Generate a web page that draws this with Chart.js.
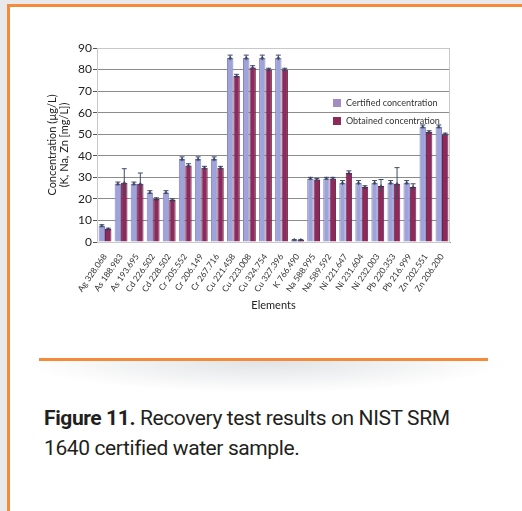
<!DOCTYPE html>
<html>
<head>
<meta charset="utf-8">
<script src="https://cdn.jsdelivr.net/npm/chart.js@4.4.1/dist/chart.umd.min.js"></script>
<style>
  html, body { margin: 0; padding: 0; }
  body { width: 522px; height: 511px; background: #e8e9eb; position: relative; overflow: hidden; }
  #panel { position: absolute; left: 7px; top: 4px; width: 530px; height: 520px; background: #fff;
    border-top: 3px solid #f58a3a; border-left: 3px solid #f58a3a; }
  #wrap { position: absolute; left: 0; top: 0; width: 522px; height: 330px; }
  .leg { position: absolute; font-family: Lato, "Open Sans", sans-serif; font-size: 9px; color: #333; }
  .leg span { position: absolute; left: 0; top: 1px; width: 8px; height: 8px; }
  .leg div { position: absolute; left: 13px; top: -1px; white-space: nowrap; }
  #rule { position: absolute; left: 39px; top: 358px; width: 449px; height: 3px; background: #f58a3a; }
  #shade { position: absolute; left: 20px; top: 361px; width: 490px; height: 32px;
    background: radial-gradient(ellipse at 50% 0%, rgba(200,203,208,0.55), rgba(255,255,255,0) 70%); }
  #caption { position: absolute; left: 44px; top: 403px; width: 470px; font-family: Roboto, sans-serif;
    font-size: 21px; line-height: 30px; color: #231f20; letter-spacing: -0.4px; white-space: nowrap; }
</style>
</head>
<body>
<div id="panel"></div>
<div id="shade"></div>
<div id="rule"></div>
<div id="wrap"><canvas id="chart"></canvas></div>
<div class="leg" style="left:333px; top:98px;"><span style="background:#a48cc2"></span><div>Certified concentration</div></div>
<div class="leg" style="left:333px; top:116px;"><span style="background:#8c2a5b"></span><div>Obtained concentration</div></div>
<div id="caption"><b>Figure 11.</b> Recovery test results on NIST SRM<br>1640 certified water sample.</div>
<script>
const elements = ["Ag 328.068", "As 188.983", "As 193.695", "Cd 226.502", "Cd 228.502",
  "Cr 205.552", "Cr 206.149", "Cr 267.716", "Cu 221.458", "Cu 223.008", "Cu 324.754",
  "Cu 327.396", "K 766.490", "Na 588.995", "Na 589.592", "Ni 221.647", "Ni 231.604",
  "Ni 232.003", "Pb 220.353", "Pb 216.999", "Zn 202.551", "Zn 206.200"];
const certified = [7.5, 27, 27, 23, 23, 38.5, 38.5, 38.5, 85.5, 85.5, 85.5, 85.5, 1,
  29.5, 29.5, 27.5, 27.5, 27.5, 27.5, 27.5, 53.5, 53.5];
const obtained = [6, 27.5, 27, 20, 19.5, 35.5, 34.5, 34.5, 77, 81, 80, 80, 1,
  29, 29.5, 32, 25.5, 26, 27, 25.5, 51, 50];
const certifiedErr = [0.5, 0.8, 0.8, 0.8, 0.8, 1, 1, 1, 1.2, 1.2, 1.2, 1.2, 0.1,
  0.5, 0.5, 1, 1, 1, 1, 1, 0.8, 0.8];
const obtainedErr = [0.4, 6.5, 5, 0.5, 0.5, 0.8, 0.6, 0.6, 0.8, 0.8, 0.6, 0.6, 0.1,
  0.5, 0.5, 1, 0.6, 3, 7.5, 1.5, 0.6, 0.5];
const yTicks = [0, 10, 20, 30, 40, 50, 60, 70, 80, 90];

const font = "Lato, 'Open Sans', sans-serif";

const errorBars = {
  id: "errorBars",
  afterDatasetsDraw(chart) {
    const ctx = chart.ctx;
    const y = chart.scales.y;
    const errs = [certifiedErr, obtainedErr];
    ctx.save();
    chart.data.datasets.forEach((ds, d) => {
      const meta = chart.getDatasetMeta(d);
      meta.data.forEach((bar, i) => {
        const v = ds.data[i], e = errs[d][i];
        const top = y.getPixelForValue(v + e), bot = y.getPixelForValue(v - e);
        ctx.strokeStyle = "#3d4a66";
        ctx.lineWidth = 1;
        ctx.beginPath();
        ctx.moveTo(bar.x, top); ctx.lineTo(bar.x, bot);
        ctx.moveTo(bar.x - 2.5, top); ctx.lineTo(bar.x + 2.5, top);
        ctx.stroke();
        ctx.fillStyle = "rgba(50,60,90,0.75)";
        ctx.beginPath();
        ctx.moveTo(bar.x - 2.5, bar.y + 1.5);
        ctx.lineTo(bar.x, bar.y - 2);
        ctx.lineTo(bar.x + 2.5, bar.y + 1.5);
        ctx.closePath();
        ctx.fill();
      });
    });
    ctx.restore();
  }
};

const frame = {
  id: "frame",
  beforeDatasetsDraw(chart) {
    const a = chart.chartArea, ctx = chart.ctx;
    ctx.save();
    ctx.strokeStyle = "#c8c8c8";
    ctx.lineWidth = 1;
    ctx.strokeRect(a.left + 0.5, a.top + 0.5, a.right - a.left - 1, a.bottom - a.top);
    ctx.restore();
  }
};

new Chart(document.getElementById("chart"), {
  type: "bar",
  data: {
    labels: elements,
    datasets: [
      {
        label: "Certified concentration",
        data: certified,
        backgroundColor: "#a0a3da",
        borderColor: "#8386c4",
        borderWidth: 1,
        categoryPercentage: 0.8,
        barPercentage: 1.0,
      },
      {
        label: "Obtained concentration",
        data: obtained,
        backgroundColor: "#8c2a5b",
        borderColor: "#6f1f47",
        borderWidth: 1,
        categoryPercentage: 0.8,
        barPercentage: 1.0,
      },
    ],
  },
  options: {
    responsive: true,
    maintainAspectRatio: false,
    animation: false,
    layout: { padding: { left: 46, right: 72, top: 48, bottom: 18 } },
    plugins: { legend: { display: false }, tooltip: { enabled: false } },
    scales: {
      x: {
        grid: { display: false },
        border: { color: "#9a9a9a" },
        ticks: {
          autoSkip: false, minRotation: 55, maxRotation: 55,
          font: { family: font, size: 8.5 }, color: "#333", padding: 2,
        },
        title: { display: true, text: "Elements", font: { family: font, size: 11 }, color: "#222", padding: 0 },
        afterFit(s) { s.height = 70; },
      },
      y: {
        min: 0, max: 90,
        afterBuildTicks(s) { s.ticks = yTicks.map((v) => ({ value: v })); },
        grid: { color: "#8c8c8c", tickLength: 4, tickColor: "#555" },
        border: { color: "#555" },
        ticks: { font: { family: font, size: 12 }, color: "#222", padding: 1 },
        title: {
          display: true,
          text: ["Concentration (\u00b5g/L)", "(K, Na, Zn [mg/L])"],
          font: { family: font, size: 11, lineHeight: 1.1 }, color: "#222", padding: 0,
        },
        afterFit(s) { s.width = 51; },
      },
    },
  },
  plugins: [frame, errorBars],
});
</script>
</body>
</html>
